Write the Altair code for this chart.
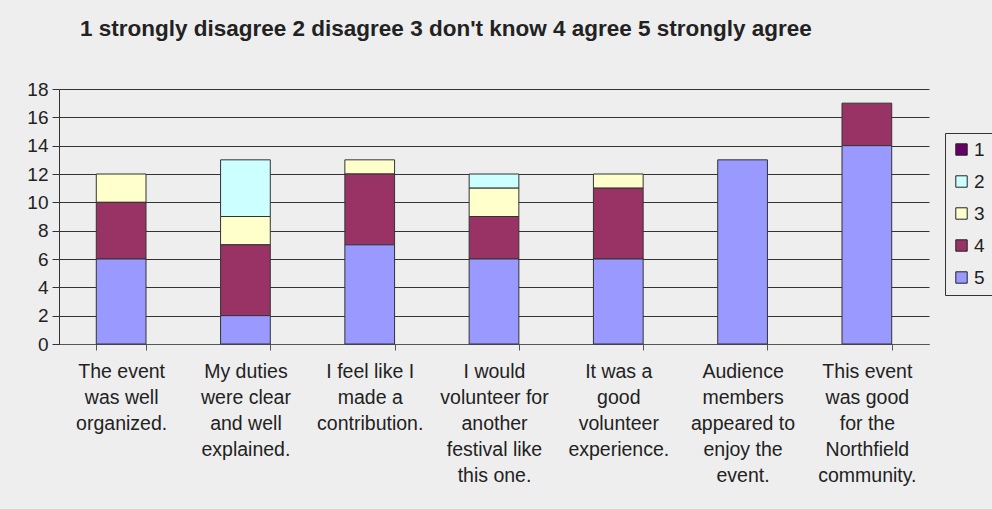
import altair as alt
import pandas as pd

categories = [
    "The event|was well|organized.",
    "My duties|were clear|and well|explained.",
    "I feel like I|made a|contribution.",
    "I would|volunteer for|another|festival like|this one.",
    "It was a|good|volunteer|experience.",
    "Audience|members|appeared to|enjoy the|event.",
    "This event|was good|for the|Northfield|community.",
]
levels = ["1", "2", "3", "4", "5"]
colors = ["#660066", "#CCFFFF", "#FFFFCC", "#993366", "#9999FF"]

v1 = [0, 0, 0, 0, 0, 0, 0]
v2 = [0, 4, 0, 1, 0, 0, 0]
v3 = [2, 2, 1, 2, 1, 0, 0]
v4 = [4, 5, 5, 3, 5, 0, 3]
v5 = [6, 2, 7, 6, 6, 13, 14]

series = {"1": v1, "2": v2, "3": v3, "4": v4, "5": v5}
rows = []
for lvl in levels:
    for i, c in enumerate(categories):
        if series[lvl][i] > 0:
            rows.append({"cat": c, "level": lvl, "count": series[lvl][i],
                         "ord": -int(lvl)})
df = pd.DataFrame(rows)

font = "Liberation Sans"

chart = alt.Chart(df).mark_bar(stroke="#333333", strokeWidth=1).encode(
    x=alt.X("cat:N", sort=categories, title=None,
            scale=alt.Scale(paddingInner=0.6, paddingOuter=0.3),
            axis=alt.Axis(labelAngle=0, labelExpr="split(datum.label, '|')",
                          labelFontSize=19.5, labelLineHeight=26, labelColor="#222222",
                          labelFont=font, labelPadding=12, tickBand="extent",
                          tickSize=6, tickColor="#555555", domainColor="#555555",
                          labelBaseline="top")),
    y=alt.Y("count:Q", stack="zero", title=None,
            scale=alt.Scale(domain=[0, 18]),
            axis=alt.Axis(values=[0, 2, 4, 6, 8, 10, 12, 14, 16, 18],
                          grid=True, gridColor="#333333", gridWidth=1,
                          labelFontSize=19, labelColor="#222222", labelFont=font,
                          tickSize=7, tickColor="#333333", domainColor="#333333",
                          labelPadding=4)),
    color=alt.Color("level:N", scale=alt.Scale(domain=levels, range=colors),
                    legend=alt.Legend(title=None, orient="none", legendX=886, legendY=44,
                                      symbolType="square", symbolSize=130,
                                      symbolStrokeColor="#222222", symbolStrokeWidth=1,
                                      labelFontSize=19, labelFont=font,
                                      labelColor="#222222", rowPadding=12,
                                      padding=7, strokeColor="#333333",
                                      fillColor="#EEEEEE", labelOffset=3)),
    order=alt.Order("ord:Q", sort="ascending"),
).properties(
    width=870,
    height=255,
    title=alt.TitleParams(
        "1 strongly disagree 2 disagree 3 don't know 4 agree 5 strongly agree",
        anchor="start", frame="group", dx=21, offset=40, fontSize=22.5,
        fontWeight="bold", font=font, color="#222222"),
    autosize=alt.AutoSizeParams(type="none"),
    padding={"left": 59, "top": 89, "right": 63, "bottom": 165},
    background="#EEEEEE",
).configure_view(stroke=None)

chart.save("out.html", embed_options={"renderer": "svg", "actions": False})
